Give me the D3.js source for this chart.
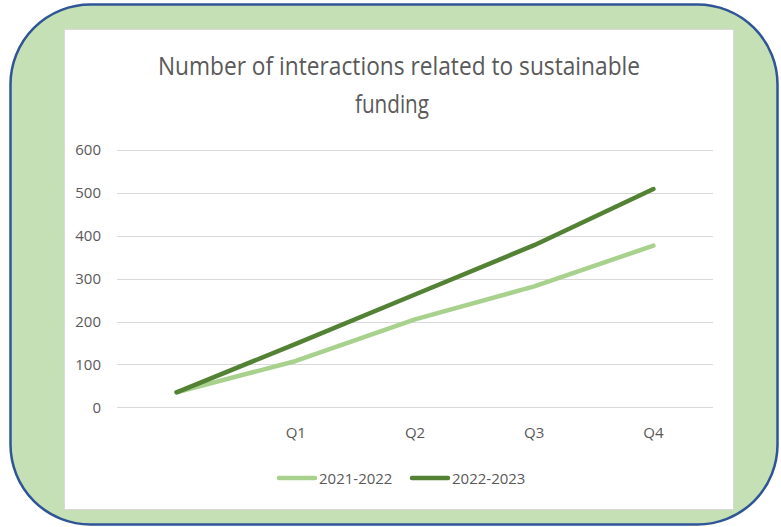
<!DOCTYPE html>
<html>
<head>
<meta charset="utf-8">
<script src="https://cdn.jsdelivr.net/npm/d3@7"></script>
<style>
  html, body { margin: 0; padding: 0; background: #ffffff; }
  svg { display: block; }
  text { font-family: "Open Sans", "Noto Sans", sans-serif; fill: #595959; }
</style>
</head>
<body>
<script>
// Quarterly interaction counts (first slot is the starting level)
const categories = ["", "Q1", "Q2", "Q3", "Q4"];
const series2021 = [35, 108, 205, 282, 377];
const series2022 = [35, 148, 263, 378, 509];
const seriesNames = ["2021-2022", "2022-2023"];
const seriesColors = ["#a9d18e", "#548235"];
const yTicks = [0, 100, 200, 300, 400, 500, 600];
const titleLines = ["Number of interactions related to sustainable", "funding"];

const W = 781, H = 527;
const svg = d3.select("body").append("svg").attr("width", W).attr("height", H);

// Rounded green frame
svg.append("rect")
  .attr("x", 10.5).attr("y", 4.5).attr("width", 767).attr("height", 520)
  .attr("rx", 80).attr("ry", 80)
  .attr("fill", "#c5e0b4").attr("stroke", "#2f5597").attr("stroke-width", 2.5);

// White chart area
svg.append("rect")
  .attr("x", 64.5).attr("y", 29.5).attr("width", 669).attr("height", 480)
  .attr("fill", "#ffffff").attr("stroke", "#d9d9d9").attr("stroke-width", 1);

// Title
const title = svg.append("g");
title.append("text")
  .attr("x", 399).attr("y", 75).attr("text-anchor", "middle")
  .attr("font-size", 26).attr("textLength", 482).attr("lengthAdjust", "spacingAndGlyphs")
  .text(titleLines[0]);
title.append("text")
  .attr("x", 392).attr("y", 113).attr("text-anchor", "middle")
  .attr("font-size", 26).attr("textLength", 74).attr("lengthAdjust", "spacingAndGlyphs")
  .text(titleLines[1]);

// Scales
const x = d3.scaleBand().domain(categories).range([117, 713]).padding(0);
const y = d3.scaleLinear().domain([0, 600]).range([407.3, 150]);

// Gridlines
svg.append("g")
  .selectAll("line")
  .data(yTicks)
  .join("line")
  .attr("x1", 117).attr("x2", 713)
  .attr("y1", d => Math.round(y(d)) + 0.5).attr("y2", d => Math.round(y(d)) + 0.5)
  .attr("stroke", "#d9d9d9").attr("stroke-width", 1.2);

// Y axis labels
const yAxis = svg.append("g")
  .attr("transform", "translate(117,0)")
  .call(d3.axisLeft(y).tickValues(yTicks).tickSize(0).tickPadding(16));
yAxis.select(".domain").remove();
yAxis.selectAll("text").attr("font-size", 15).attr("fill", "#595959")
  .style("font-family", '"Open Sans", sans-serif');

// X axis labels
const xAxis = svg.append("g")
  .attr("transform", "translate(0,407)")
  .call(d3.axisBottom(x).tickSize(0).tickPadding(20));
xAxis.select(".domain").remove();
xAxis.selectAll("text").attr("font-size", 15).attr("fill", "#595959")
  .style("font-family", '"Open Sans", sans-serif');

// Lines
const line = d3.line()
  .x((d, i) => x(categories[i]) + x.bandwidth() / 2)
  .y(d => y(d));

[series2021, series2022].forEach((s, i) => {
  svg.append("path")
    .datum(s)
    .attr("d", line)
    .attr("fill", "none")
    .attr("stroke", seriesColors[i])
    .attr("stroke-width", 4.5)
    .attr("stroke-linecap", "round")
    .attr("stroke-linejoin", "round");
});

// Legend
const legendItems = [
  { name: seriesNames[0], color: seriesColors[0], x0: 279 },
  { name: seriesNames[1], color: seriesColors[1], x0: 412 }
];
const legend = svg.append("g");
legendItems.forEach(it => {
  legend.append("line")
    .attr("x1", it.x0).attr("x2", it.x0 + 36)
    .attr("y1", 478).attr("y2", 478)
    .attr("stroke", it.color).attr("stroke-width", 4.5).attr("stroke-linecap", "round");
  legend.append("text")
    .attr("x", it.x0 + 40).attr("y", 484)
    .attr("font-size", 15)
    .text(it.name);
});
</script>
</body>
</html>
